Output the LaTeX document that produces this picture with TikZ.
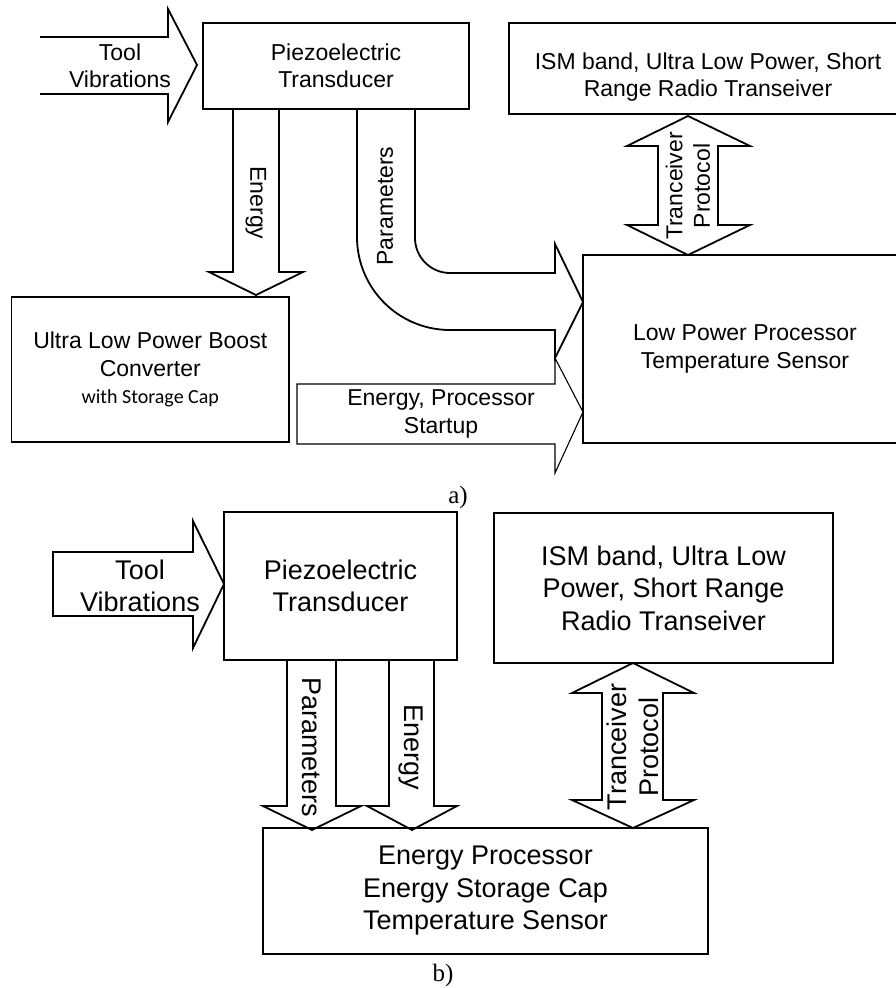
\documentclass[tikz,border=0pt]{standalone}
\usepackage{fontspec}
\setmainfont{Liberation Sans}
\newfontfamily\calibrifont{Carlito}
\newfontfamily\timesfont{Liberation Serif}
\begin{document}
\begin{tikzpicture}[x=1pt, y=-1pt, line join=miter,
		box/.style={draw, line width=1.8pt, inner sep=0pt},
		blk/.style={draw, line width=1.8pt},
		thinblk/.style={draw, line width=1.1pt},
		txtA/.style={font=\fontsize{23}{27.5}\selectfont, align=center, inner sep=0pt},
		txtB/.style={font=\fontsize{27}{32.5}\selectfont, align=center, inner sep=0pt},
		captxt/.style={font=\timesfont\fontsize{25}{30}\selectfont, inner sep=0pt}]
	\useasboundingbox (0,0) rectangle (895,988);
	
	% a) boxes
	\node[box, txtA, minimum width=266pt, minimum height=86pt] (piezoA) at (336,66) {Piezoelectric\\Transducer};
	\node[box, minimum width=398pt, minimum height=91pt] (ismA) at (708,68.5) {};
	\node[txtA] (ismAtxt) at (708,77) {ISM band, Ultra Low Power, Short\\Range Radio Transeiver};
	\node[box, txtA, minimum width=324pt, minimum height=188pt] (procA) at (745,349) {Low Power Processor\\Temperature Sensor};
	\node[box, txtA, minimum width=277.5pt, minimum height=145pt] (boostA) at (150.25,369.5) {Ultra Low Power Boost\\Converter\\{\calibrifont\fontsize{20}{27.5}\selectfont with Storage Cap}};
	
	% a) arrows
	\draw[blk] (40,37) -- (168,37) -- (168,9) -- (197,65) -- (168,122) -- (168,94) -- (40,94);
	\draw[blk] (233,109) -- (233,272) -- (209,272) -- (256,295) -- (303,272) -- (279,272) -- (279,109);
	\draw[blk] (357,109) -- (357,237) .. controls (357,288.4) and (398.6,330) .. (450,330) -- (555,330) -- (555,358) -- (583,302)
		-- (555,244) -- (555,273) -- (450,273) .. controls (430.7,273) and (415,257.3) .. (415,238) -- (415,109);
	\draw[thinblk] (555,358) -- (583,412) -- (555,473) -- (555,444) -- (297,444) -- (297,384) -- (555,384) -- (555,358);
	\draw[blk] (688,116) -- (750,146) -- (718,146) -- (718,225) -- (750,225) -- (688,255) -- (627,225) -- (658,225)
		-- (658,146) -- (627,146) -- cycle;
	
	% a) labels
	\node[txtA] (toolA) at (120,66) {Tool\\Vibrations};
	\node[txtA, rotate=-90] (energyA) at (256,203) {Energy};
	\node[txtA, rotate=90] (paramA) at (385,206) {Parameters};
	\node[txtA, rotate=90] (protoA) at (688,186) {Tranceiver\\Protocol};
	\node[txtA] (startA) at (441,414) {Energy, Processor\\Startup};
	\node[captxt] (capA) at (458,497) {a)};
	
	% b) boxes
	\node[box, txtB, minimum width=233pt, minimum height=148pt] (piezoB) at (340.5,586) {Piezoelectric\\Transducer};
	\node[box, txtB, minimum width=339pt, minimum height=150pt] (ismB) at (663.5,588) {ISM band, Ultra Low\\Power, Short Range\\Radio Transeiver};
	\node[box, txtB, minimum width=445pt, minimum height=126pt] (procB) at (485.5,891) {Energy Processor\\Energy Storage Cap\\Temperature Sensor};
	
	% b) arrows
	\draw[blk] (53,552) -- (193,552) -- (193,521) -- (224,584) -- (193,648) -- (193,616) -- (53,616) -- cycle;
	\foreach \xl/\xr/\hl/\hr/\xt in {287/336/263/361/312, 389/434/367/457/412}
	\draw[blk] (\xl,660) -- (\xl,806) -- (\hl,806) -- (\xt,830) -- (\hr,806) -- (\xr,806) -- (\xr,660);
	\draw[blk] (633,663) -- (694,693) -- (663,693) -- (663,800) -- (694,800) -- (633,828) -- (572,800) -- (602,800)
		-- (602,693) -- (572,693) -- cycle;
	
	% b) labels
	\node[txtB] (toolB) at (140,586) {Tool\\Vibrations};
	\foreach \nm/\x/\t in {paramB/312/Parameters, energyB/411/Energy}
	\node[txtB, rotate=-90] (\nm) at (\x,747) {\t};
	\node[txtB, rotate=90] (protoB) at (633,747) {Tranceiver\\Protocol};
	\node[captxt] (capB) at (443,975) {b)};
\end{tikzpicture}
\end{document}
